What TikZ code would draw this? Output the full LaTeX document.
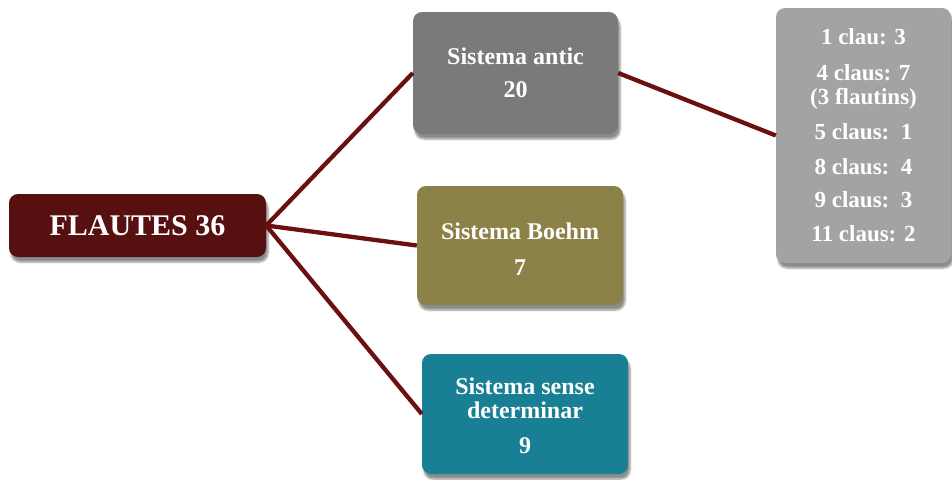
\documentclass[tikz,border=0pt]{standalone}
\usepackage{fontspec}
\setmainfont{Liberation Serif}
\usetikzlibrary{shadows.blur}
\definecolor{cRoot}{HTML}{56100F}
\definecolor{cAntic}{HTML}{7A7A7A}
\definecolor{cBoehm}{HTML}{8C8248}
\definecolor{cSense}{HTML}{197F95}
\definecolor{cRight}{HTML}{A3A3A3}
\definecolor{cLine}{HTML}{6A1010}
\tikzset{
  box/.style={rounded corners=9pt, inner sep=0pt, text=white, align=center,
    font=\bfseries\fontsize{24}{24}\selectfont,
    blur shadow={shadow xshift=2pt, shadow yshift=-5pt, shadow opacity=45, shadow blur steps=6}},
  link/.style={draw=cLine, line width=4.3pt}
}
\begin{document}
\begin{tikzpicture}[x=1pt,y=-1pt]
\useasboundingbox (0,0) rectangle (952,479);
\node[box, fill=cRoot, minimum width=257pt, minimum height=63pt, font=\bfseries\fontsize{30}{30}\selectfont] (root) at (137.5,225.5) {FLAUTES 36};
\node[box, fill=cAntic, minimum width=205pt, minimum height=122pt] (antic) at (515.5,73) {Sistema antic\\[9pt]20};
\node[box, fill=cBoehm, minimum width=206pt, minimum height=119pt] (boehm) at (520,245.5) {\rule{0pt}{23pt}Sistema Boehm\\[12pt]7};
\node[box, fill=cSense, minimum width=206pt, minimum height=120pt] (sense) at (525,414) {\rule{0pt}{20pt}Sistema sense\\determinar\\[11pt]9};
\node[box, fill=cRight, minimum width=175pt, minimum height=255pt, font=\bfseries\fontsize{23}{24}\selectfont] (right) at (863.5,135.5) {1 clau: 3\\[12pt]4 claus: 7\\(3 flautins)\\[11pt]5 claus:\ \ 1\\[11pt]8 claus:\ \ 4\\[9pt]9 claus:\ \ 3\\[10pt]11 claus: 2};
\draw[link] (root.east) -- (antic.west);
\draw[link] (root.east) -- (boehm.west);
\draw[link] (root.east) -- (sense.west);
\draw[link] (antic.east) -- (right.west);
\end{tikzpicture}
\end{document}
